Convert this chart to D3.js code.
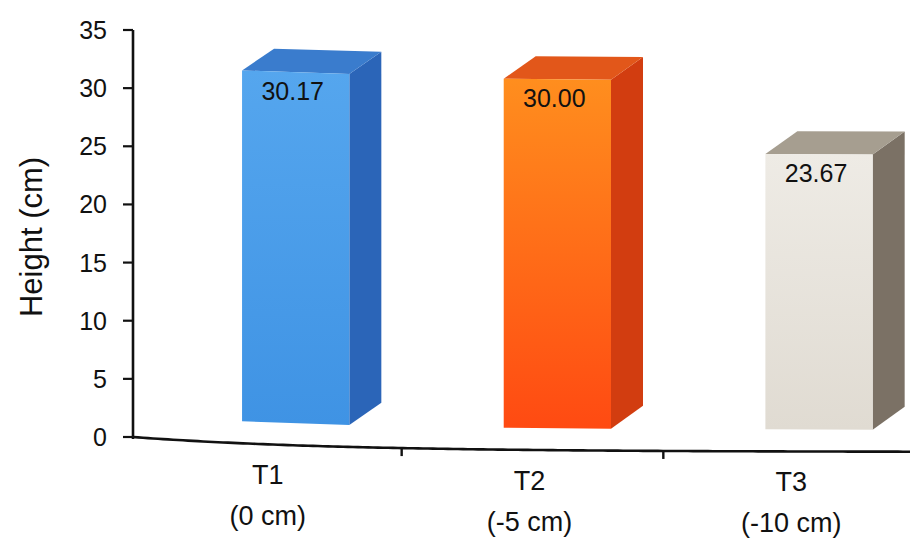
<!DOCTYPE html>
<html>
<head>
<meta charset="utf-8">
<script src="https://cdn.jsdelivr.net/npm/d3@7"></script>
<style>
  html, body { margin: 0; padding: 0; background: #ffffff; }
  svg { display: block; font-family: "Liberation Sans", Arial, sans-serif; }
</style>
</head>
<body>
<svg id="chart" width="910" height="542"></svg>
<script>
// Plant height by treatment
const categories = ["T1", "T2", "T3"];
const subLabels = ["(0 cm)", "(-5 cm)", "(-10 cm)"];
const heights = [30.17, 30.00, 23.67];
const valueLabels = ["30.17", "30.00", "23.67"];
const yTicks = [0, 5, 10, 15, 20, 25, 30, 35];

// Face colours per bar: front (top, bottom of gradient), side, top
const frontTop = ["#55a6ee", "#ff8e1e", "#eeebe5"];
const frontBottom = ["#3f93e4", "#ff4a12", "#e0dbd2"];
const sideColors = ["#2b65b8", "#d23d10", "#7b7165"];
const topColors = ["#3a7ccd", "#e2571a", "#a69e90"];

const svg = d3.select("#chart");
const W = 910;
const x0 = 133;

const y = d3.scaleLinear().domain([0, 35]).range([437, 30]);
const x = d3.scaleBand().domain(categories).range([140, 925]).paddingInner(0);
const bw = x.bandwidth();

// floor recedes slightly toward the right (perspective drop of the floor line)
const drop = px => 15 * (1 - Math.exp(-(px - x0) / 200));
const fy = (px, py) => py + drop(px);

// 3D column geometry
const dx = 32, dy = -23;
const lift = 22;
const faceW = 0.41 * bw;
const faceOff = 0.39 * bw;

const defs = svg.append("defs");
categories.forEach((c, i) => {
  const g = defs.append("linearGradient")
    .attr("id", "front" + i).attr("x1", 0).attr("y1", 0).attr("x2", 0).attr("y2", 1);
  g.append("stop").attr("offset", "0%").attr("stop-color", frontTop[i]);
  g.append("stop").attr("offset", "100%").attr("stop-color", frontBottom[i]);
});

// Y axis
const yAxis = svg.append("g");
yAxis.append("line")
  .attr("x1", x0).attr("x2", x0).attr("y1", y(35)).attr("y2", y(0) + 2)
  .attr("stroke", "#111").attr("stroke-width", 2.6);
yAxis.selectAll("line.tick").data(yTicks).enter().append("line")
  .attr("class", "tick")
  .attr("x1", x0 - 10).attr("x2", x0)
  .attr("y1", d => y(d)).attr("y2", d => y(d))
  .attr("stroke", "#111").attr("stroke-width", 2.2);
yAxis.selectAll("text").data(yTicks).enter().append("text")
  .attr("x", 107).attr("y", d => y(d))
  .attr("dy", "0.36em")
  .attr("text-anchor", "end")
  .attr("font-size", 25)
  .attr("fill", "#111")
  .text(d => d);

svg.append("text")
  .attr("transform", `translate(42,237) rotate(-90)`)
  .attr("text-anchor", "middle")
  .attr("font-size", 31)
  .attr("fill", "#111")
  .text("Height (cm)");

// X axis line following the floor
const axisPts = d3.range(x0, W + 6, 5).map(px => [px, fy(px, y(0))]);
svg.append("path")
  .attr("d", d3.line()(axisPts))
  .attr("fill", "none").attr("stroke", "#111").attr("stroke-width", 2.6);
svg.selectAll("line.xtick").data(categories.slice(1)).enter().append("line")
  .attr("class", "xtick")
  .attr("x1", d => x(d)).attr("x2", d => x(d))
  .attr("y1", d => fy(x(d), y(0))).attr("y2", d => fy(x(d), y(0)) + 8)
  .attr("stroke", "#111").attr("stroke-width", 2.4);

// 3D columns
const bars = svg.selectAll("g.bar").data(categories).enter().append("g").attr("class", "bar");
bars.each(function (c, i) {
  const g = d3.select(this);
  const L = x(c) + faceOff, R = L + faceW;
  const T = y(heights[i]) - lift, B = y(0) - lift;
  const p = (px, py) => `${px},${fy(px, py)}`;
  // side face
  g.append("path")
    .attr("d", `M${p(R, T)} L${p(R + dx, T + dy)} L${p(R + dx, B + dy)} L${p(R, B)} Z`)
    .attr("fill", sideColors[i]);
  // top face
  g.append("path")
    .attr("d", `M${p(L, T)} L${p(L + dx, T + dy)} L${p(R + dx, T + dy)} L${p(R, T)} Z`)
    .attr("fill", topColors[i]);
  // front face
  g.append("path")
    .attr("d", `M${p(L, T)} L${p(R, T)} L${p(R, B)} L${p(L, B)} Z`)
    .attr("fill", `url(#front${i})`);
  // value label
  const cx = (L + R) / 2 - 3;
  g.append("text")
    .attr("x", cx).attr("y", fy(cx, T) + 28)
    .attr("text-anchor", "middle")
    .attr("font-size", 25)
    .attr("fill", "#111")
    .text(valueLabels[i]);
});

// Category labels
const lab = svg.selectAll("g.lab").data(categories).enter().append("g").attr("class", "lab");
const labX = d => x(d) + bw / 2 - 3;
lab.append("text")
  .attr("x", labX).attr("y", d => fy(labX(d), y(0)) + 40)
  .attr("text-anchor", "middle").attr("font-size", 27).attr("fill", "#111")
  .text(d => d);
lab.append("text")
  .attr("x", labX).attr("y", d => fy(labX(d), y(0)) + 81)
  .attr("text-anchor", "middle").attr("font-size", 27).attr("fill", "#111")
  .text((d, i) => subLabels[i]);
</script>
</body>
</html>
